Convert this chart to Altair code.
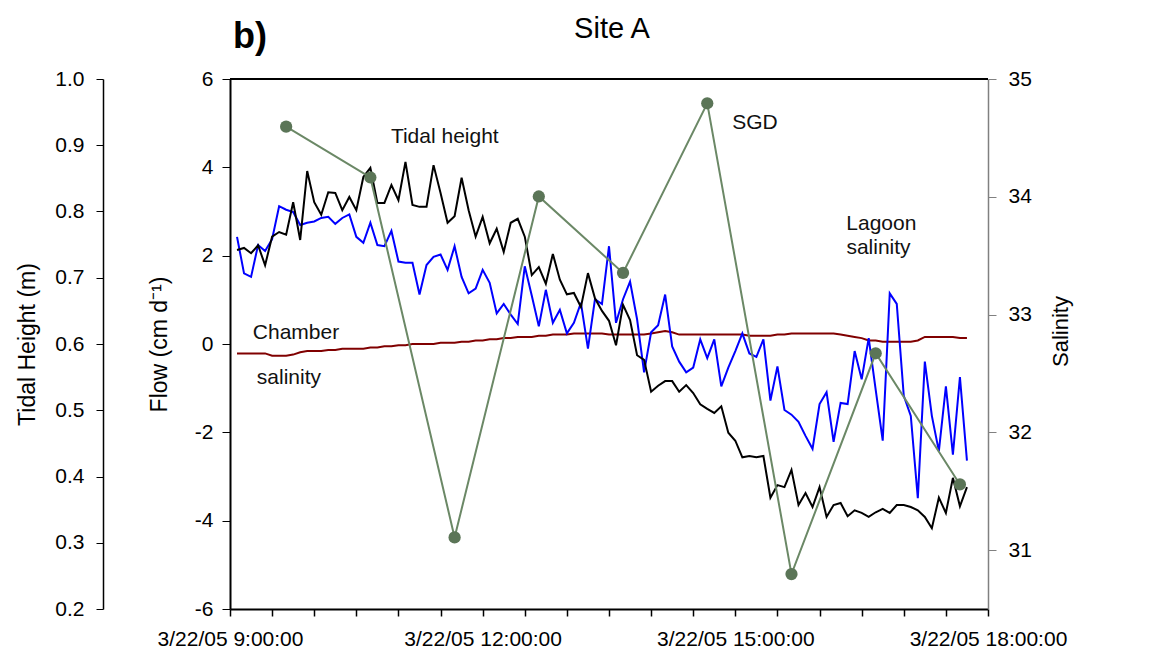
import altair as alt
import pandas as pd

# ---------------- data ----------------
# continuous records, one value every 5 minutes from 09:05 to 17:45 on 3/22/05
record_start = "2005-03-22 09:05:00"
record_step = "5min"

tidal_height = [
    0.742, 0.745, 0.737, 0.749, 0.719, 0.762, 0.769, 0.765, 0.814, 0.757,
    0.861, 0.814, 0.795, 0.829, 0.828, 0.802, 0.822, 0.802, 0.852, 0.866,
    0.813, 0.813, 0.840, 0.817, 0.875, 0.810, 0.807, 0.807, 0.870, 0.828,
    0.783, 0.793, 0.851, 0.802, 0.762, 0.792, 0.752, 0.774, 0.739, 0.783,
    0.789, 0.762, 0.704, 0.716, 0.691, 0.736, 0.697, 0.675, 0.677, 0.656,
    0.707, 0.669, 0.650, 0.635, 0.598, 0.659, 0.636, 0.583, 0.576, 0.528,
    0.537, 0.544, 0.544, 0.528, 0.538, 0.526, 0.509, 0.502, 0.496, 0.506,
    0.466, 0.454, 0.429, 0.431, 0.429, 0.431, 0.368, 0.387, 0.384, 0.410,
    0.357, 0.375, 0.354, 0.384, 0.339, 0.357, 0.360, 0.340, 0.349, 0.345,
    0.339, 0.346, 0.351, 0.345, 0.357, 0.357, 0.354, 0.349, 0.339, 0.322,
    0.368, 0.345, 0.398, 0.355, 0.384,
]

lagoon_salinity = [
    33.66, 33.35, 33.32, 33.59, 33.54, 33.64, 33.92, 33.89, 33.87, 33.76,
    33.78, 33.79, 33.82, 33.83, 33.77, 33.82, 33.85, 33.66, 33.61, 33.78,
    33.59, 33.58, 33.71, 33.45, 33.44, 33.44, 33.17, 33.42, 33.49, 33.51,
    33.38, 33.58, 33.32, 33.18, 33.22, 33.38, 33.27, 33.01, 33.09, 33.00,
    32.92, 33.41, 33.16, 32.90, 33.21, 32.93, 33.04, 32.84, 32.93, 33.10,
    32.71, 33.13, 33.09, 33.58, 32.93, 33.13, 33.28, 32.96, 32.51, 32.85,
    32.91, 33.17, 32.73, 32.60, 32.51, 32.55, 32.79, 32.63, 32.79, 32.39,
    32.55, 32.69, 32.84, 32.67, 32.64, 32.79, 32.27, 32.56, 32.19, 32.15,
    32.09, 31.97, 31.86, 32.24, 32.34, 31.92, 32.25, 32.24, 32.69, 32.45,
    32.80, 32.36, 31.93, 33.18, 33.09, 32.31, 32.14, 31.44, 32.60, 32.14,
    31.84, 32.39, 31.81, 32.47, 31.76,
]

chamber_salinity = [
    32.67, 32.67, 32.67, 32.67, 32.67, 32.65, 32.65, 32.65, 32.66, 32.68,
    32.69, 32.69, 32.69, 32.70, 32.70, 32.71, 32.71, 32.71, 32.71, 32.72,
    32.72, 32.73, 32.73, 32.74, 32.74, 32.75, 32.75, 32.75, 32.75, 32.76,
    32.76, 32.76, 32.77, 32.77, 32.78, 32.78, 32.79, 32.79, 32.80, 32.80,
    32.81, 32.81, 32.81, 32.82, 32.82, 32.83, 32.83, 32.83, 32.84, 32.84,
    32.84, 32.84, 32.84, 32.83, 32.83, 32.83, 32.83, 32.83, 32.83, 32.84,
    32.85, 32.86, 32.85, 32.83, 32.83, 32.83, 32.83, 32.83, 32.83, 32.83,
    32.83, 32.83, 32.83, 32.82, 32.82, 32.82, 32.82, 32.83, 32.83, 32.84,
    32.84, 32.84, 32.84, 32.84, 32.84, 32.84, 32.83, 32.82, 32.81, 32.80,
    32.78, 32.78, 32.77, 32.77, 32.77, 32.77, 32.77, 32.78, 32.81, 32.81,
    32.81, 32.81, 32.81, 32.80, 32.80,
]

# seepage meter (SGD) samples
sgd_times = ["09:40", "10:40", "11:40", "12:40", "13:40", "14:40", "15:40", "16:40", "17:40"]
sgd_flow = [4.92, 3.77, -4.38, 3.34, 1.61, 5.45, -5.21, -0.21, -3.18]

# in-plot labels (placed in time / flow coordinates)
label_texts = ["Tidal height", "SGD", "Lagoon", "salinity", "Chamber", "salinity"]
label_times = ["11:33", "15:14", "16:44", "16:42", "09:47", "09:42"]
label_flow = [4.69, 5.00, 2.72, 2.17, 0.25, -0.77]

# axis tick values
tidal_ticks = [0.2, 0.3, 0.4, 0.5, 0.6, 0.7, 0.8, 0.9, 1.0]
flow_ticks = [-6, -4, -2, 0, 2, 4, 6]
salinity_ticks = [31, 32, 33, 34, 35]

# ---------------- tables ----------------
day = "2005-03-22"
times = pd.date_range(record_start, periods=len(tidal_height), freq=record_step)
time_str = [t.strftime("%Y-%m-%dT%H:%M:%S") for t in times]

tidal_df = pd.DataFrame({"time": time_str, "height": tidal_height})
sal_df = pd.concat([
    pd.DataFrame({"time": time_str, "salinity": chamber_salinity, "series": "Chamber salinity"}),
    pd.DataFrame({"time": time_str, "salinity": lagoon_salinity, "series": "Lagoon salinity"}),
])
sgd_df = pd.DataFrame({"time": [f"{day}T{t}:00" for t in sgd_times], "flow": sgd_flow})
lab_df = pd.DataFrame({"time": [f"{day}T{t}:00" for t in label_times],
                       "flow": label_flow, "text": label_texts})

# ---------------- shared x ----------------
def dt(h, m=0):
    return alt.DateTime(year=2005, month=3, date=22, hours=h, minutes=m)

x_ticks = [dt(9 + k // 2, 30 * (k % 2)) for k in range(19)]
x_enc = alt.X(
    "time:T",
    scale=alt.Scale(domain=[dt(9), dt(18)], nice=False),
    axis=alt.Axis(
        title=None, values=x_ticks, grid=False,
        labelExpr="hours(datum.value) % 3 == 0 && minutes(datum.value) == 0 ? "
                  "timeFormat(datum.value, '%-m/%d/%y %-H:%M:%S') : ''",
        labelOverlap=False, labelFlush=False, labelFontSize=21, labelPadding=12,
        tickSize=7, tickWidth=1.5, tickColor="black",
        domainColor="black", domainWidth=2,
    ),
)

FONT = "Liberation Sans"

# ---------------- layers ----------------
salinity = alt.Chart(sal_df).mark_line(strokeWidth=2).encode(
    x=x_enc,
    y=alt.Y("salinity:Q",
            scale=alt.Scale(domain=[30.5, 35], nice=False, zero=False),
            axis=alt.Axis(orient="right", title="Salinity", values=salinity_ticks,
                          titleAngle=270, titlePadding=41, titleFontSize=22,
                          titleY=252,
                          labelFontSize=21, labelPadding=12, tickSize=8,
                          domainColor="#808080", tickColor="#808080",
                          domainWidth=1.5, grid=False)),
    color=alt.Color("series:N",
                    scale=alt.Scale(domain=["Chamber salinity", "Lagoon salinity"],
                                    range=["#800000", "#0000ff"]),
                    legend=None),
)

tidal = alt.Chart(tidal_df).mark_line(color="black", strokeWidth=2).encode(
    x=x_enc,
    y=alt.Y("height:Q",
            scale=alt.Scale(domain=[0.2, 1.0], nice=False, zero=False),
            axis=alt.Axis(orient="left", offset=127, title="Tidal Height (m)",
                          values=tidal_ticks, format=".1f", titleFontSize=23,
                          titlePadding=15, labelFontSize=21, labelPadding=12,
                          tickSize=7, domainColor="black", tickColor="black",
                          domainWidth=1.5, grid=False)),
)

flow_y = alt.Y("flow:Q",
               scale=alt.Scale(domain=[-6, 6], nice=False, zero=False),
               axis=alt.Axis(orient="left", offset=0, title="Flow (cm d\u207b\u00b9)",
                             values=flow_ticks, labelExpr="'' + datum.value",
                             titleFontSize=23, titlePadding=23, labelFontSize=21,
                             labelPadding=9, tickSize=8, domainColor="black",
                             tickColor="black", domainWidth=2, grid=False))

sgd_line = alt.Chart(sgd_df).mark_line(color="#6b8866", strokeWidth=2).encode(x=x_enc, y=flow_y)
sgd_pts = alt.Chart(sgd_df).mark_circle(color="#5b7557", size=150, opacity=1).encode(x=x_enc, y=flow_y)
labels = alt.Chart(lab_df).mark_text(fontSize=21, font=FONT, color="#111111",
                                     align="center", baseline="middle").encode(
    x=x_enc, y=flow_y, text="text:N")
top_border = alt.Chart(sgd_df).mark_rule(color="black", strokeWidth=2).encode(
    x=alt.value(0), x2=alt.value(758), y=alt.value(0))

flow_layer = alt.layer(sgd_line, sgd_pts, labels, top_border)

head_df = pd.DataFrame({"t": ["Site A"]})
site_title = alt.Chart(head_df).mark_text(fontSize=29, font=FONT, color="black",
                                          align="center", baseline="middle").encode(
    text="t:N", x=alt.value(382), y=alt.value(-50))
panel_df = pd.DataFrame({"t": ["b)"]})
panel_label = alt.Chart(panel_df).mark_text(fontSize=36, font=FONT, fontWeight="bold",
                                            color="black", align="center",
                                            baseline="middle").encode(
    text="t:N", x=alt.value(20), y=alt.value(-42))

chart = alt.layer(salinity, tidal, flow_layer, site_title, panel_label).resolve_scale(
    y="independent"
).properties(
    width=758, height=530,
    padding={"left": 222, "top": 71, "right": 175, "bottom": 49},
    autosize=alt.AutoSizeParams(type="none"),
).configure_view(stroke=None).configure_axis(
    labelFont=FONT, titleFont=FONT, labelColor="black", titleColor="black",
    titleFontWeight="normal",
)

chart.save("out.html", embed_options={"renderer": "svg", "actions": False})
